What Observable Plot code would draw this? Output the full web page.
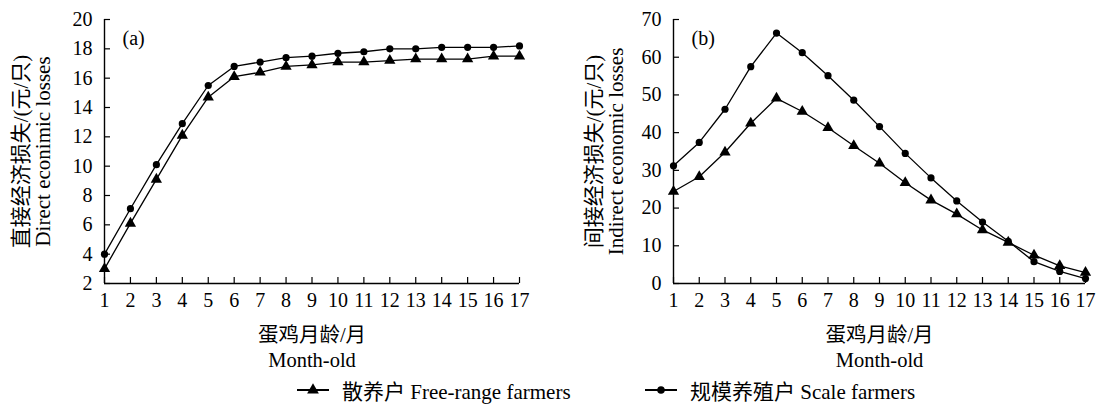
<!DOCTYPE html>
<html>
<head>
<meta charset="utf-8">
<script src="https://cdn.jsdelivr.net/npm/d3@7"></script>
<script src="https://cdn.jsdelivr.net/npm/@observablehq/plot@0.6"></script>
<style>
  html, body { margin: 0; padding: 0; background: #fff; }
  body { width: 1101px; height: 404px; position: relative; overflow: hidden;
         font-family: "Liberation Serif", "Noto Sans CJK SC", serif; color: #000; }
  #row { position: absolute; left: 0; top: 0; display: flex; }
  #legend { position: absolute; left: 0; top: 376px; width: 1101px; height: 28px; }
  .lg-item { position: absolute; top: 0; height: 28px; display: flex; align-items: center; font-size: 21px; white-space: nowrap; }
  .lg-item svg { display: block; }
</style>
</head>
<body>
<div id="row"><div id="pa"></div><div id="pb"></div></div>
<div id="legend"></div>
<script>
// ---- data ----
const months = [1, 2, 3, 4, 5, 6, 7, 8, 9, 10, 11, 12, 13, 14, 15, 16, 17];
const seriesNames = ["散养户 Free-range farmers", "规模养殖户 Scale farmers"];
const directFree  = [3.0, 6.1, 9.1, 12.1, 14.7, 16.1, 16.4, 16.8, 16.9, 17.1, 17.1, 17.2, 17.3, 17.3, 17.3, 17.5, 17.5];
const directScale = [4.0, 7.1, 10.1, 12.9, 15.5, 16.8, 17.1, 17.4, 17.5, 17.7, 17.8, 18.0, 18.0, 18.1, 18.1, 18.1, 18.2];
const indirectFree  = [24.4, 28.3, 34.8, 42.5, 49.1, 45.6, 41.3, 36.5, 31.9, 26.7, 22.1, 18.4, 14.2, 10.9, 7.5, 4.7, 2.9];
const indirectScale = [31.2, 37.4, 46.2, 57.5, 66.4, 61.2, 55.1, 48.6, 41.6, 34.5, 28.0, 21.9, 16.3, 11.2, 5.8, 3.2, 1.3];
const directTicks = [2, 4, 6, 8, 10, 12, 14, 16, 18, 20];
const indirectTicks = [0, 10, 20, 30, 40, 50, 60, 70];
const xLabel = "蛋鸡月龄/月\nMonth-old";
const directYLabel = "直接经济损失/(元/只)\nDirect econimic losses";
const indirectYLabel = "间接经济损失/(元/只)\nIndirect economic losses";

const FONT = '"Liberation Serif", "Noto Sans CJK SC", serif';

function panel({freeVals, scaleVals, ticks, tag, ylab, width, ml, mr, ylabDx}) {
  const free = months.map((m, i) => ({m, v: freeVals[i]}));
  const scale = months.map((m, i) => ({m, v: scaleVals[i]}));
  const y0 = ticks[0], y1 = ticks[ticks.length - 1];
  return Plot.plot({
    width, height: 376,
    marginLeft: ml, marginRight: mr, marginTop: 19, marginBottom: 93,
    style: {fontFamily: FONT, fontSize: "20px", color: "#000", background: "#fff", overflow: "visible"},
    x: {domain: [1, 17]},
    y: {domain: [y0, y1]},
    marks: [
      Plot.axisX({ticks: months, tickSize: -6, tickPadding: 15, tickFormat: d => String(d), label: null, fontSize: 20, strokeWidth: 1.2}),
      Plot.axisY({ticks, tickSize: -6, tickPadding: 18, tickFormat: d => String(d), label: null, fontSize: 20, strokeWidth: 1.2}),
      Plot.ruleX([1], {y1: y0, y2: y1, strokeWidth: 1.4}),
      Plot.ruleY([y0], {x1: 1, x2: 17, strokeWidth: 1.4}),
      Plot.line(free, {x: "m", y: "v", stroke: "#000", strokeWidth: 1.3}),
      Plot.line(scale, {x: "m", y: "v", stroke: "#000", strokeWidth: 1.3}),
      Plot.dot(free, {x: "m", y: "v", symbol: "triangle", r: 4.2, fill: "#000", stroke: "none"}),
      Plot.dot(scale, {x: "m", y: "v", symbol: "circle", r: 3.6, fill: "#000", stroke: "none"}),
      Plot.text([tag], {text: d => d, frameAnchor: "top-left", textAnchor: "start", lineAnchor: "middle", dx: 18, dy: 19, fontSize: 20}),
      Plot.text([ylab], {text: d => d, frameAnchor: "left", rotate: -90, textAnchor: "middle", lineAnchor: "middle", lineHeight: 1.05, dx: ylabDx, fontSize: 21}),
      Plot.text([xLabel], {text: d => d, frameAnchor: "bottom", textAnchor: "middle", lineAnchor: "middle", lineHeight: 1.2, dy: 63, fontSize: 20.5})
    ]
  });
}

document.getElementById("pa").append(panel({
  freeVals: directFree, scaleVals: directScale, ticks: directTicks, tag: "(a)",
  ylab: directYLabel, width: 560, ml: 104, mr: 41, ylabDx: -73
}));
document.getElementById("pb").append(panel({
  freeVals: indirectFree, scaleVals: indirectScale, ticks: indirectTicks, tag: "(b)",
  ylab: indirectYLabel, width: 541, ml: 113, mr: 16, ylabDx: -69
}));

// ---- legend ----
const legend = document.getElementById("legend");
const items = [
  {name: seriesNames[0], symbol: "triangle", left: 297},
  {name: seriesNames[1], symbol: "circle", left: 645}
];
for (const it of items) {
  const div = document.createElement("div");
  div.className = "lg-item";
  div.style.left = it.left + "px";
  const ns = "http://www.w3.org/2000/svg";
  const svg = document.createElementNS(ns, "svg");
  svg.setAttribute("width", 32); svg.setAttribute("height", 14);
  const line = document.createElementNS(ns, "line");
  line.setAttribute("x1", 0); line.setAttribute("x2", 32); line.setAttribute("y1", 7); line.setAttribute("y2", 7);
  line.setAttribute("stroke", "#000"); line.setAttribute("stroke-width", 2);
  svg.append(line);
  const p = document.createElementNS(ns, "path");
  p.setAttribute("d", d3.symbol(it.symbol === "triangle" ? d3.symbolTriangle : d3.symbolCircle, it.symbol === "triangle" ? 60 : 45)());
  p.setAttribute("transform", "translate(16,7)");
  p.setAttribute("fill", "#000");
  svg.append(p);
  const span = document.createElement("span");
  span.textContent = it.name;
  span.style.marginLeft = "13px";
  div.append(svg, span);
  legend.append(div);
}
</script>
</body>
</html>
